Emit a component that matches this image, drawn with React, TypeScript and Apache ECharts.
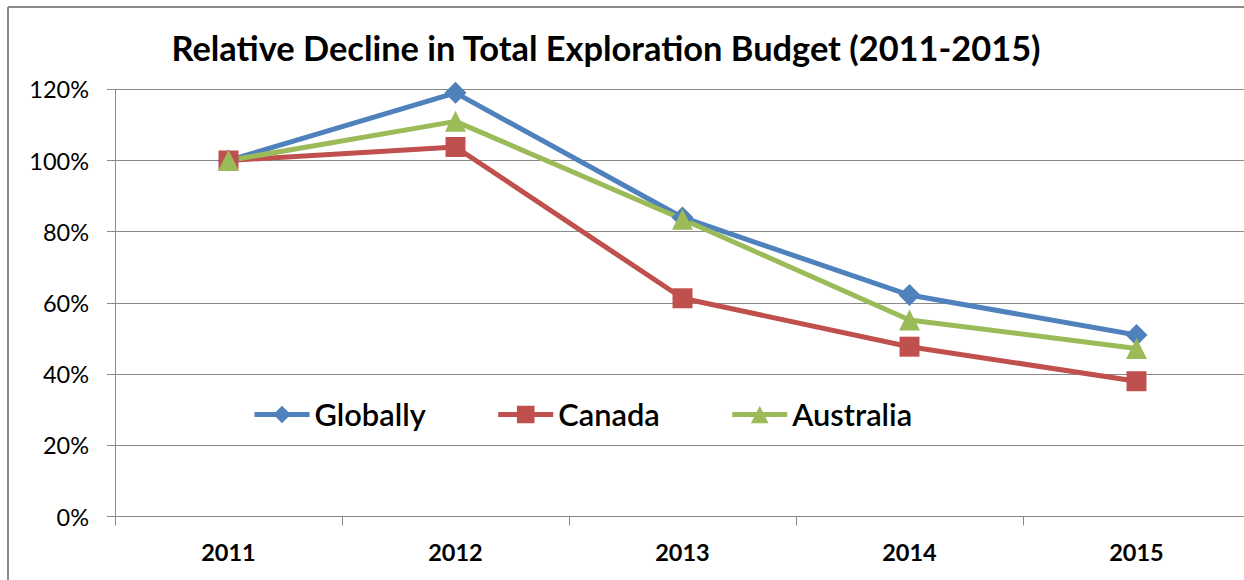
import React, { useEffect, useRef } from "react";
import * as echarts from "echarts";

const years = ["2011", "2012", "2013", "2014", "2015"];
const globally = [100, 119, 84, 62.2, 51];
const canada = [100, 103.8, 61.3, 47.7, 38];
const australia = [100, 111, 83.5, 55.2, 47.2];
const yTicks = { min: 0, max: 120, interval: 20 };

const FONT = "Lato, 'Noto Sans', sans-serif";

export default function App() {
  const ref = useRef<HTMLDivElement>(null);
  useEffect(() => {
    const chart = echarts.init(ref.current!, null, { renderer: "svg" });
    const mk = (name: string, data: number[], color: string, symbol: string, size: number) => ({
      name,
      type: "line",
      data,
      symbol,
      symbolSize: size,
      lineStyle: { color, width: 5 },
      itemStyle: { color },
      z: 3,
    });
    chart.setOption({
      animation: false,
      backgroundColor: "#ffffff",
      title: {
        text: "Relative Decline in Total Exploration Budget (2011-2015)",
        left: 601,
        textAlign: "center",
        top: 25,
        textStyle: { fontFamily: FONT, fontWeight: "bold", fontSize: 34.4, color: "#000" },
      },
      legend: {
        left: 247,
        top: 394,
        itemWidth: 55,
        itemHeight: 22,
        itemGap: 70,
        lineStyle: { width: 5 },
        textStyle: { fontFamily: FONT, fontSize: 30.8, color: "#000", fontWeight: 600 },
        data: ["Globally", "Canada", "Australia"],
      },
      grid: { left: 115, right: 0, top: 89.3, bottom: 580 - 516.5, containLabel: false },
      xAxis: {
        type: "category",
        data: years,
        boundaryGap: true,
        axisLine: { lineStyle: { color: "#8a8a8a", width: 1 } },
        axisTick: { show: true, length: 9, lineStyle: { color: "#8a8a8a" } },
        axisLabel: {
          fontFamily: FONT,
          fontWeight: "bold",
          fontSize: 23.5,
          color: "#000",
          margin: 23,
        },
        splitLine: { show: false },
      },
      yAxis: {
        type: "value",
        min: yTicks.min,
        max: yTicks.max,
        interval: yTicks.interval,
        axisLine: { show: true, lineStyle: { color: "#8a8a8a", width: 1 } },
        axisTick: { show: true, length: 8, lineStyle: { color: "#8a8a8a" } },
        axisLabel: {
          formatter: "{value}%",
          fontFamily: FONT,
          fontSize: 23.5,
          color: "#000",
          margin: 26,
        },
        splitLine: { show: true, lineStyle: { color: "#8a8a8a", width: 1 } },
      },
      graphic: [
        { type: "line", shape: { x1: 8, y1: 7, x2: 8, y2: 580 }, style: { stroke: "#8a8a8a", lineWidth: 2 } },
        { type: "line", shape: { x1: 8, y1: 7, x2: 1250, y2: 7 }, style: { stroke: "#8a8a8a", lineWidth: 2 } },
      ],
      series: [
        mk("Globally", globally, "#4F81BD", "diamond", 22),
        mk("Canada", canada, "#C0504D", "rect", 20),
        mk("Australia", australia, "#9BBB59", "triangle", 21),
      ],
    });
    return () => chart.dispose();
  }, []);
  return (
    <div style={{ position: "absolute", left: 0, top: 0, width: 1244, height: 580, overflow: "hidden" }}>
      <div ref={ref} style={{ width: 1250, height: 580 }} />
    </div>
  );
}
